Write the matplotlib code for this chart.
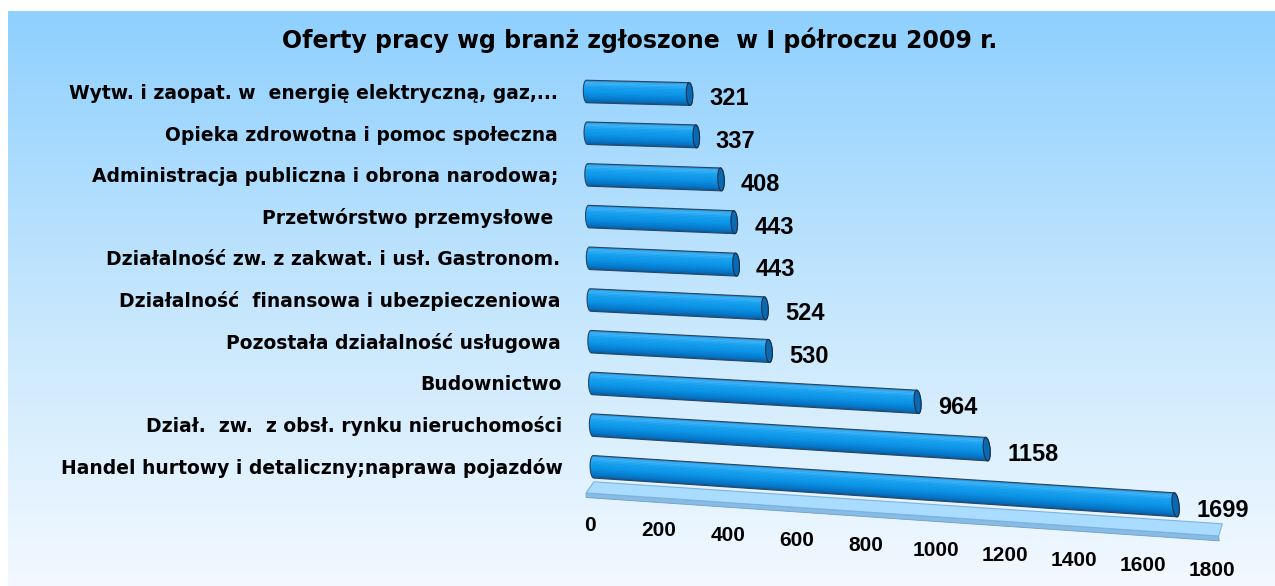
import numpy as np
import matplotlib
matplotlib.use("Agg")
import matplotlib.pyplot as plt
from matplotlib import transforms as mtransforms
from matplotlib.path import Path
from matplotlib.patches import PathPatch, Ellipse, Polygon
from matplotlib.colors import LinearSegmentedColormap

# ---------------- data ----------------
title = "Oferty pracy wg branż zgłoszone  w I półroczu 2009 r."
categories = [
    "Wytw. i zaopat. w  energię elektryczną, gaz,...",
    "Opieka zdrowotna i pomoc społeczna",
    "Administracja publiczna i obrona narodowa;",
    "Przetwórstwo przemysłowe ",
    "Działalność zw. z zakwat. i usł. Gastronom.",
    "Działalność  finansowa i ubezpieczeniowa",
    "Pozostała działalność usługowa",
    "Budownictwo",
    "Dział.  zw.  z obsł. rynku nieruchomości",
    "Handel hurtowy i detaliczny;naprawa pojazdów",
]
values = [321, 337, 408, 443, 443, 524, 530, 964, 1158, 1699]
tick_values = [0, 200, 400, 600, 800, 1000, 1200, 1400, 1600, 1800]
x_max = 1800

NUM_FONT = ["Liberation Sans", "DejaVu Sans"]
LAB_FONT = ["DejaVu Sans"]
plt.rcParams["font.family"] = NUM_FONT


# ------------- perspective warp (axes fraction -> figure fraction) -------------
class BilinearWarp(mtransforms.Transform):
    input_dims = 2
    output_dims = 2
    is_separable = False
    has_inverse = False

    def __init__(self, tl, tr, bl, br):
        super().__init__()
        self.tl, self.tr, self.bl, self.br = [np.asarray(p, float) for p in (tl, tr, bl, br)]

    def transform_non_affine(self, values):
        v = np.asarray(values, float)
        u = v[..., 0:1]
        w = v[..., 1:2]
        return ((1 - u) * (1 - w) * self.bl + u * (1 - w) * self.br
                + (1 - u) * w * self.tl + u * w * self.tr)

    def transform_path_non_affine(self, path):
        return Path(self.transform_non_affine(path.vertices), path.codes)


W, H = 1275, 586
fig = plt.figure(figsize=(W / 100, H / 100), dpi=100)
fig.patch.set_facecolor("white")

# background panel with vertical gradient
bg = fig.add_axes([0, 0, 1, 1], zorder=0)
bg.set_xlim(0, 1)
bg.set_ylim(0, 1)
bg.axis("off")
bg_cmap = LinearSegmentedColormap.from_list(
    "bg", [(0.0, "#f3f9ff"), (0.45, "#c9e8fd"), (1.0, "#8fd0ff")])
grad = np.linspace(0, 1, 256).reshape(-1, 1)
bg.imshow(grad, cmap=bg_cmap, origin="lower", aspect="auto",
          extent=[8 / W, 1, 0, 1 - 11 / H], interpolation="bicubic")

fig.text(0.502, 1 - 40 / H, title, ha="center", va="center",
         fontsize=17, fontweight="bold", color="black", family=LAB_FONT)

# main (flat) axes, later warped into perspective
ax = fig.add_axes([0, 0, 1, 1], zorder=1)
ax.axis("off")

n = len(values)
rows = np.arange(n)

warp = BilinearWarp(tl=(0.45939, 0.91502), tr=(0.90918, 0.89608),
                    bl=(0.46673, 0.06109), br=(0.95718, -0.01758))
trans = ax.transData + ax.transAxes.inverted() + warp + fig.transFigure

ry = 0.27   # half thickness of cylinders (rows)
rx = 10.0   # half width of end caps (value units)

cyl_cmap = LinearSegmentedColormap.from_list(
    "cyl", [(0.0, "#1f86cf"), (0.12, "#45b6f7"), (0.3, "#1aa3f1"),
            (0.6, "#0b92e4"), (0.85, "#0676c8"), (1.0, "#0a5898")])

# floor plate
plate_top = Polygon([(0, 9.36), (x_max + 30, 9.36), (x_max + 15, 9.64), (-23, 9.64)],
                    closed=True, facecolor="#a9dcfe", edgecolor="#7fb3dd", lw=0.8,
                    transform=trans, zorder=2)
plate_side = Polygon([(-23, 9.64), (x_max + 15, 9.64), (x_max + 15, 9.75), (-23, 9.75)],
                     closed=True, facecolor="#86bce6", edgecolor="#6f9fc8", lw=0.6,
                     transform=trans, zorder=2)
ax.add_patch(plate_side)
ax.add_patch(plate_top)

n_strips = 16
strip_h = 2 * ry / n_strips
strip_colors = [cyl_cmap((k + 0.5) / n_strips) for k in range(n_strips)]

t = np.linspace(-np.pi / 2, np.pi / 2, 25)
for i, val in zip(rows, values):
    left = np.column_stack([-rx * np.cos(t), i + ry * np.sin(t)])
    right = np.column_stack([val + rx * np.cos(t[::-1]), i + ry * np.sin(t[::-1])])
    verts = np.vstack([left, right, left[:1]])
    body = PathPatch(Path(verts, closed=True), facecolor="#0b90e2",
                     edgecolor="none", transform=trans, zorder=3)
    ax.add_patch(body)
    offs = i - ry + strip_h * (np.arange(n_strips) + 0.5)
    strips = ax.barh(offs, [val + 2 * rx] * n_strips, left=-rx,
                     height=strip_h * 1.15, color=strip_colors, linewidth=0, zorder=4)
    for s in strips:
        s.set_transform(trans)
        s.set_clip_path(body)
    outline = PathPatch(Path(verts, closed=True), facecolor="none",
                        edgecolor="#2b4660", lw=0.8, transform=trans, zorder=5)
    ax.add_patch(outline)
    cap = Ellipse((val, i), 2 * rx, 2 * ry, facecolor="#0a69b2",
                  edgecolor="#16324c", lw=0.8, transform=trans, zorder=6)
    ax.add_patch(cap)
    ax.text(val + 60, i + 0.1, f"{val}", transform=trans, ha="left", va="center",
            fontsize=17, fontweight="bold", color="black", zorder=7)
    ax.text(-90, i + 0.07, categories[i], transform=trans, ha="right", va="center",
            fontsize=13.5, fontweight="bold", color="black", zorder=7, family=LAB_FONT)

for tv in tick_values:
    ax.text(tv - 15, 10.42, f"{tv}", transform=trans, ha="center", va="center",
            fontsize=15, fontweight="bold", color="black", zorder=7)

ax.set_xlim(0, x_max)
ax.set_ylim(11, -1)

fig.savefig("out.png", dpi=100, facecolor="white")
